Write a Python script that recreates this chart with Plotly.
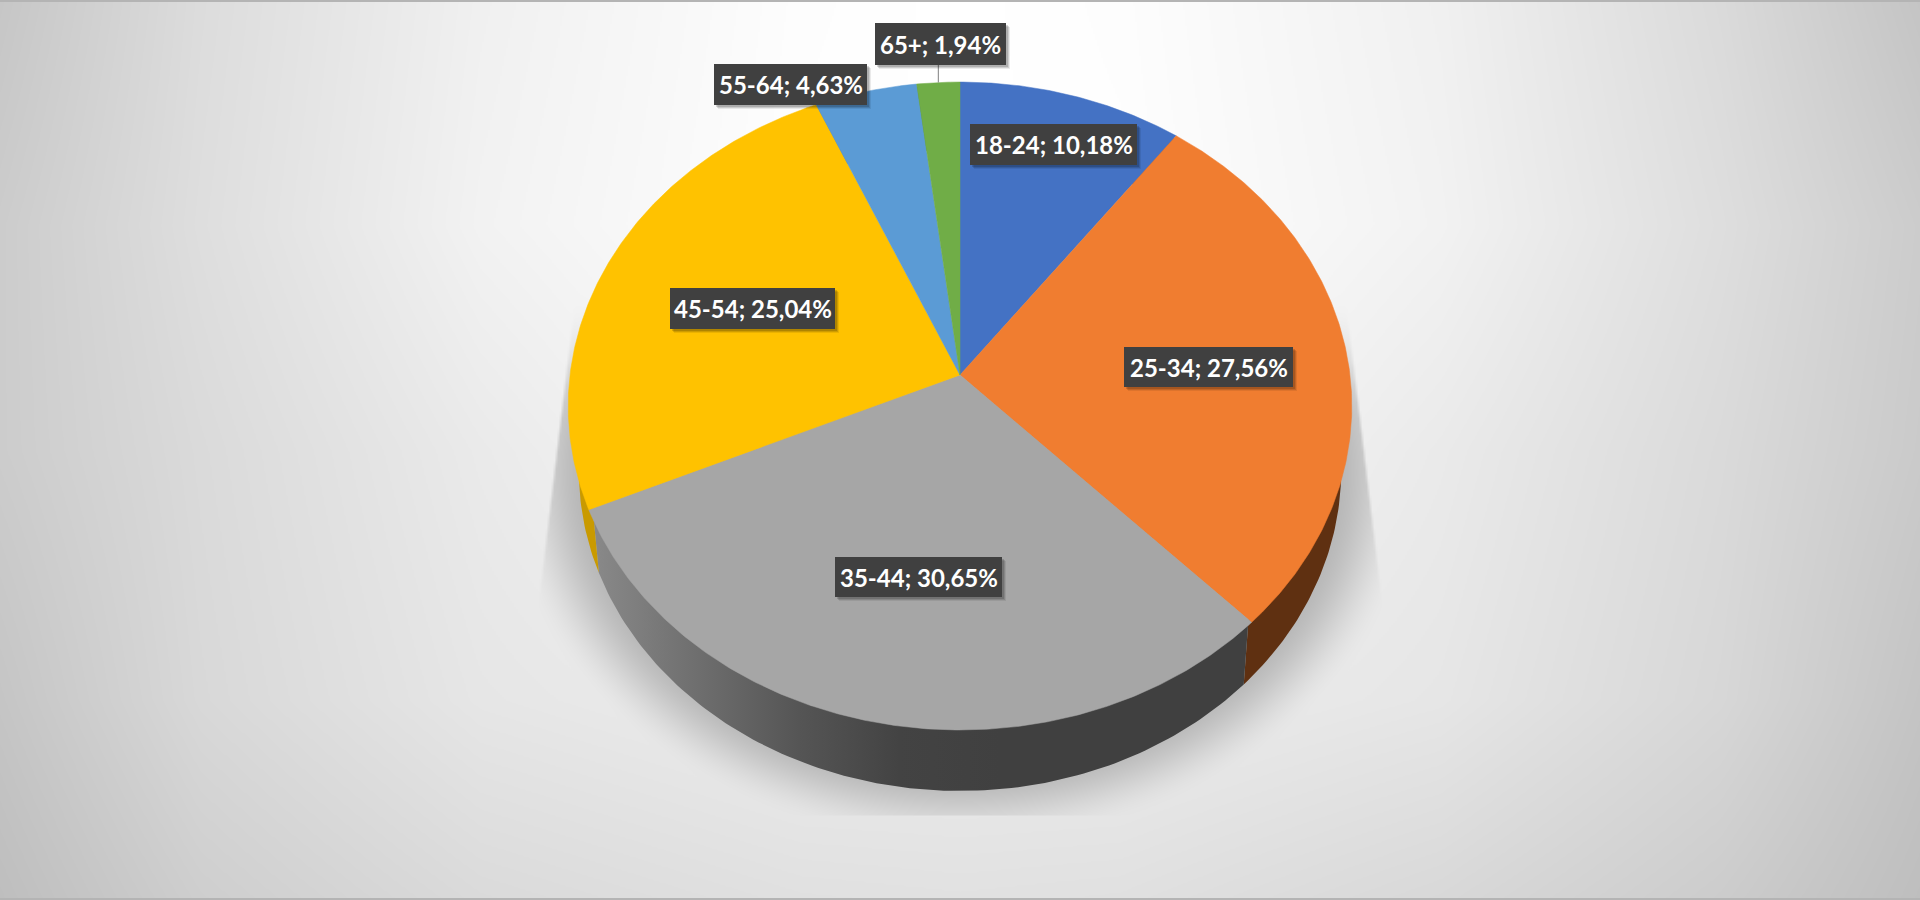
import numpy as np
import plotly.graph_objects as go

# ---------- data ----------
categories = ["18-24", "25-34", "35-44", "45-54", "55-64", "65+"]
shares = [10.18, 27.56, 30.65, 25.04, 4.63, 1.94]
value_text = ["10,18%", "27,56%", "30,65%", "25,04%", "4,63%", "1,94%"]

# ---------- styles ----------
slice_colors = ["#4472C4", "#F07D30", "#A6A6A6", "#FFC200", "#5B9BD5", "#70AD47"]
rim_colors = ["#2A4478", "#5F3011", None, "#C99A00", "#37618A", "#44692A"]

# ---------- layout of the tilted disc (pixels of the picture) ----------
CX, CY = 960.0, 375.0
R, S, K = 390.0, 321.0, 0.0957
RIM_SCALE_X, RIM_SCALE_Y, RIM_SHIFT = 0.973, 0.99, 64.5

label_boxes = [  # left, top, right, bottom of each label
    (970, 124, 1137, 165),
    (1124, 347, 1293, 387),
    (835, 557, 1002, 597),
    (670, 288, 835, 329),
    (714, 64, 867, 105),
    (875, 23, 1006, 65),
]


def disc(theta, r=1.0):
    u, v = r * np.sin(theta), -r * np.cos(theta)
    w = 1 - K * v
    return CX + R * u / w, CY + S * v / w


def rim(theta):
    x, y = disc(theta)
    return CX + (x - CX) * RIM_SCALE_X, CY + RIM_SHIFT + (y - CY) * RIM_SCALE_Y


# ---------- background and shadow raster ----------
gx = [0, 200, 480, 800, 960, 1120, 1440, 1720, 1920]
gy = [0, 225, 450, 700, 900]
grey_table = np.array([
    [198, 220, 240, 253, 255, 253, 240, 218, 196],
    [204, 222, 242, 254, 255, 254, 242, 222, 204],
    [204, 218, 234, 248, 250, 248, 234, 218, 202],
    [197, 216, 230, 236, 236, 236, 230, 215, 196],
    [190, 206, 218, 224, 225, 224, 216, 204, 190],
], dtype=float)

px = np.arange(0, 1921, 2.0)
py = np.arange(0, 901, 2.0)
by_row = np.array([np.interp(px, gx, row) for row in grey_table])
bg = np.array([np.interp(py, gy, by_row[:, j]) for j in range(len(px))]).T

X, Y = np.meshgrid(px, py)
d = np.sqrt(((X - 960) / 460) ** 2 + ((Y - 470) / 375) ** 2)
t = np.clip((1.0 - d) / 0.2, 0, 1)
alpha = t * t * (3 - 2 * t)
side = 388 + 0.12 * (Y - 310)
top_t = np.clip((Y - 290) / 130, 0, 1)
top_fade = top_t * top_t * (3 - 2 * top_t)
clip = np.clip((side - np.abs(X - 960)) / 3, 0, 1) * top_fade * (Y < 815)
alpha = alpha * clip
z = bg * (1 - alpha) + 181 * alpha

fig = go.Figure()
fig.add_trace(go.Heatmap(
    x=px, y=py, z=np.round(z, 1), zmin=0, zmax=255, zsmooth="best",
    colorscale=[[0, "#000000"], [1, "#ffffff"]], showscale=False, hoverinfo="skip",
))

# ---------- slices ----------
fractions = np.array(shares) / sum(shares)
edges = np.concatenate([[0], np.cumsum(fractions)]) * 2 * np.pi

# rim first, so the top face covers it
for i in range(len(shares)):
    th = np.linspace(edges[i], edges[i + 1], 120)
    xt, yt = disc(th, 0.99)
    xb, yb = rim(th)
    style = dict(fillcolor=rim_colors[i]) if rim_colors[i] else dict(
        fillgradient=dict(
            type="horizontal", start=598, stop=1000,
            colorscale=[[0, "#888888"], [0.25, "#6E6E6E"], [0.5, "#555555"],
                        [0.75, "#434343"], [1, "#404040"]],
        ))
    fig.add_trace(go.Scatter(
        x=np.r_[xt, xb[::-1]], y=np.r_[yt, yb[::-1]], mode="lines", fill="toself",
        line=dict(width=0), hoverinfo="skip", showlegend=False, **style,
    ))

for i, name in enumerate(categories):
    th = np.linspace(edges[i], edges[i + 1], max(8, int(shares[i] * 8)))
    xs, ys = disc(th)
    fig.add_trace(go.Scatter(
        x=np.r_[CX, xs, CX], y=np.r_[CY, ys, CY], mode="lines", fill="toself",
        fillcolor=slice_colors[i], line=dict(color=slice_colors[i], width=0.5),
        name=name, text=f"{name}; {value_text[i]}", hoverinfo="text", showlegend=False,
    ))

# ---------- labels ----------
shapes = []
x_top, y_top = disc(np.array([(edges[5] + edges[6]) / 2]))
shapes.append(dict(type="line", x0=x_top[0], x1=x_top[0], y0=65, y1=y_top[0],
                   line=dict(color="#7f7f7f", width=1), layer="above"))
annotations = []
for (x0, y0, x1, y1), name, val in zip(label_boxes, categories, value_text):
    for off, op in ((4, 0.08), (3, 0.12), (2, 0.15)):
        shapes.append(dict(type="rect", x0=x0 + off, x1=x1 + off, y0=y0 + off, y1=y1 + off,
                           fillcolor=f"rgba(0,0,0,{op})", line_width=0, layer="above"))
    shapes.append(dict(type="rect", x0=x0, x1=x1, y0=y0, y1=y1,
                       fillcolor="#404040", line_width=0, layer="above"))
    annotations.append(dict(
        x=(x0 + x1) / 2, y=(y0 + y1) / 2, xref="x", yref="y", showarrow=False,
        text=f"<b>{name}; {val}</b>", font=dict(family="Lato", size=24, color="#ffffff"),
    ))

# picture frame
shapes.append(dict(type="line", x0=0, x1=1920, y0=1, y1=1, line=dict(color="#b4b4b4", width=2), layer="above"))
shapes.append(dict(type="line", x0=0, x1=1920, y0=899, y1=899, line=dict(color="#b4b4b4", width=2), layer="above"))

fig.update_layout(
    width=1920, height=900, margin=dict(l=0, r=0, t=0, b=0),
    paper_bgcolor="#ffffff", plot_bgcolor="#ffffff", showlegend=False,
    xaxis=dict(range=[0, 1920], visible=False, fixedrange=True),
    yaxis=dict(range=[900, 0], visible=False, fixedrange=True),
    shapes=shapes, annotations=annotations,
)

fig.write_html(
    "out.html",
    config=dict(displayModeBar=False),
    post_script="document.body.style.margin='0';document.documentElement.style.overflow='hidden';",
)
